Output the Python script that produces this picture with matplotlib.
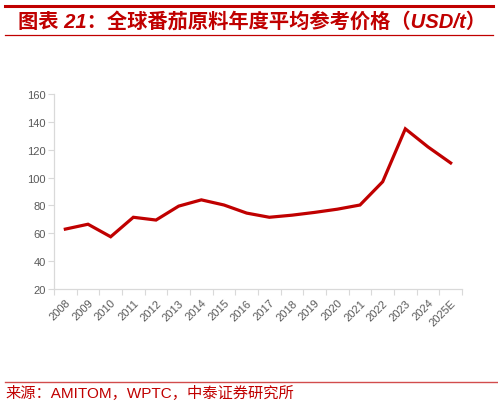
import matplotlib
matplotlib.use("Agg")
import matplotlib.pyplot as plt
from matplotlib.lines import Line2D

years = ["2008", "2009", "2010", "2011", "2012", "2013", "2014", "2015", "2016",
         "2017", "2018", "2019", "2020", "2021", "2022", "2023", "2024", "2025E"]
prices = [63, 66.5, 57.5, 71.5, 69.5, 79.5, 84, 80.3, 74.5,
          71.5, 73, 75, 77.3, 80.3, 97, 135, 122, 110.5]
yticks = [20, 40, 60, 80, 100, 120, 140, 160]

title = "图表 21：全球番茄原料年度平均参考价格（USD/t）"
source = "来源：AMITOM，WPTC，中泰证券研究所"

RED = "#C00000"
GRAY = "#D9D9D9"
TXT = "#595959"
FAM = ["Liberation Sans", "Noto Sans CJK SC", "DejaVu Sans"]
plt.rcParams["font.family"] = FAM

fig = plt.figure(figsize=(4.98, 4.06), dpi=100)
ax = fig.add_axes([54 / 498, (406 - 290) / 406, 408 / 498, 195 / 406])

x = list(range(len(years)))
ax.plot(x, prices, color=RED, linewidth=2.3, solid_joinstyle="miter")

ax.set_xlim(-0.5, len(years) - 0.5)
ax.set_ylim(20, 160)
ax.set_yticks(yticks)
ax.set_yticklabels([str(v) for v in yticks], fontsize=8, color=TXT)

ax.set_xticks([i - 0.5 for i in range(len(years) + 1)])
ax.set_xticklabels([])
ax.set_xticks(x, minor=True)
ax.set_xticklabels(years, minor=True, rotation=45, ha="right", va="top",
                   rotation_mode="anchor", fontsize=8, color=TXT)
ax.tick_params(axis="x", which="major", length=4, color=GRAY, width=0.8, direction="out")
ax.tick_params(axis="x", which="minor", length=0, pad=6)
ax.tick_params(axis="y", length=4, color=GRAY, width=0.8, pad=2)

for s in ["top", "right"]:
    ax.spines[s].set_visible(False)
for s in ["left", "bottom"]:
    ax.spines[s].set_color(GRAY)
    ax.spines[s].set_linewidth(0.9)

# title block
fig.add_artist(Line2D([5 / 498, 493 / 498], [1 - 6.5 / 406] * 2, color=RED, lw=2.2,
                      transform=fig.transFigure))
fig.add_artist(Line2D([5 / 498, 493 / 498], [1 - 36 / 406] * 2, color=RED, lw=0.9,
                      transform=fig.transFigure))
fig.text(18 / 498, 1 - 22 / 406, title, fontsize=14.6, fontweight="bold", style="italic",
         color=RED, ha="left", va="center", family=FAM)

# source block
fig.add_artist(Line2D([5 / 498, 1], [1 - 383 / 406] * 2, color=RED, lw=1.0, alpha=0.7,
                      transform=fig.transFigure))
fig.text(5 / 498, 1 - 393 / 406, source, fontsize=11, color=RED,
         ha="left", va="center", family=FAM)

fig.savefig("out.png", dpi=100)
